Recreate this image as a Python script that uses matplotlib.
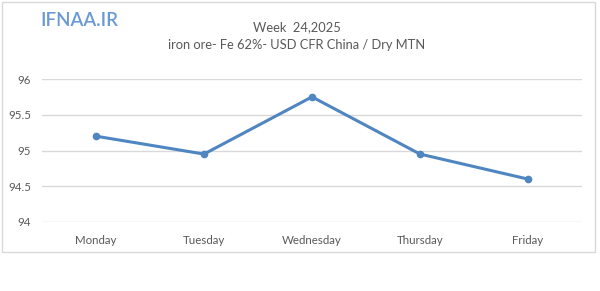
import matplotlib
matplotlib.use("Agg")
import matplotlib.pyplot as plt
from matplotlib.patches import Rectangle

days = ["Monday", "Tuesday", "Wednesday", "Thursday", "Friday"]
prices = [95.2, 94.95, 95.75, 94.95, 94.6]
yticks = [94, 94.5, 95, 95.5, 96]
ytick_labels = ["94", "94.5", "95", "95.5", "96"]

plt.rcParams['font.family'] = ['Lato', 'DejaVu Sans']

fig = plt.figure(figsize=(6, 2.91), dpi=100)
W, H = 600, 291

# outer chart border
fig.patches.append(Rectangle((2 / W, (H - 252) / H), 593 / W, 250 / H,
                             transform=fig.transFigure, fill=False,
                             edgecolor="#d9d9d9", linewidth=1.0))

ax = fig.add_axes([42 / W, (H - 222) / H, 540 / W, 143 / H])
x = list(range(len(days)))
ax.plot(x, prices, color="#4f86c2", linewidth=2.2, marker="o", markersize=4.5,
        markerfacecolor="#4f86c2", markeredgecolor="#4f86c2", zorder=3)
ax.set_xlim(-0.5, len(days) - 0.5)
ax.set_ylim(94, 96)
ax.set_yticks(yticks)
ax.set_yticklabels(ytick_labels)
ax.set_xticks(x)
ax.set_xticklabels(days)
ax.grid(axis="y", color="#d9d9d9", linewidth=1.0)
ax.set_axisbelow(True)
for s in ax.spines.values():
    s.set_visible(False)
ax.tick_params(axis="both", length=0, labelsize=8.3, colors="#595959")
ax.tick_params(axis="x", pad=9)
ax.tick_params(axis="y", pad=8)

fig.text(297 / W, 1 - 27 / H, "Week  24,2025", ha="center", va="center",
         fontsize=9.3, color="#595959")
fig.text(297 / W, 1 - 45 / H, "iron ore- Fe 62%- USD CFR China / Dry MTN",
         ha="center", va="center", fontsize=9.3, color="#595959")
fig.text(40 / W, 1 - 20 / H, "IFNAA.IR", ha="left", va="center",
         fontsize=13.5, color="#6a9ad6", fontweight="semibold")

fig.savefig("out.png", dpi=100)
